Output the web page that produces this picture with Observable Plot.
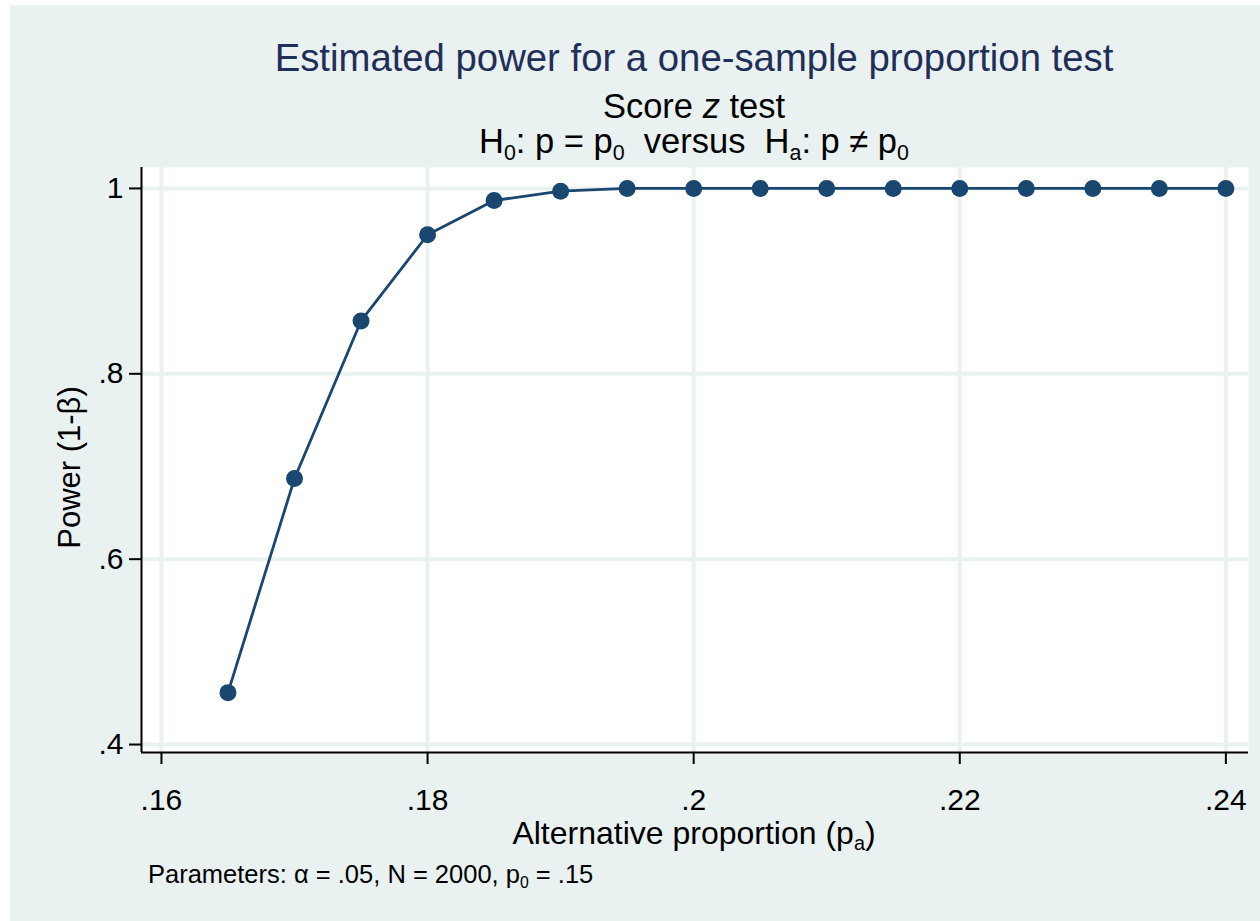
<!DOCTYPE html>
<html>
<head>
<meta charset="utf-8">
<script src="https://cdn.jsdelivr.net/npm/d3@7"></script>
<script src="https://cdn.jsdelivr.net/npm/@observablehq/plot@0.6"></script>
<style>
  html, body { margin: 0; padding: 0; background: #ffffff; }
  body { width: 1260px; height: 921px; position: relative; overflow: hidden;
         font-family: "Liberation Sans", Arial, Helvetica, sans-serif; }
  #bg { position: absolute; left: 10px; top: 5px; width: 1250px; height: 916px; background: #EAF1F1; }
  #chart { position: absolute; left: 0; top: 0; }
  .t { position: absolute; left: 0; width: 1388px; text-align: center; white-space: nowrap; color: #000; }
  .sub { font-size: 0.62em; position: relative; top: 0.32em; }
  #title { top: 39px; font-size: 38.3px; line-height: 38px; color: #1f2f57; }
  #sub1 { top: 89px; font-size: 34.5px; line-height: 34.5px; }
  #sub2 { top: 124px; font-size: 34.5px; line-height: 34.5px; }
  #xlab { top: 817px; font-size: 32px; line-height: 32px; }
  #caption { position: absolute; left: 148px; top: 861.5px; font-size: 25.5px; line-height: 25.5px; white-space: nowrap; color: #000; }
  #ylab { position: absolute; left: -131px; top: 451.5px; width: 400px; height: 31px; font-size: 31px; line-height: 31px;
          text-align: center; transform: rotate(-90deg); white-space: nowrap; color: #000; }
</style>
</head>
<body>
<div id="bg"></div>
<div id="chart"></div>
<div class="t" id="title">Estimated power for a one-sample proportion test</div>
<div class="t" id="sub1">Score <i>z</i> test</div>
<div class="t" id="sub2">H<span class="sub">0</span>: p = p<span class="sub">0</span>&nbsp; versus&nbsp; H<span class="sub">a</span>: p ≠ p<span class="sub">0</span></div>
<div class="t" id="xlab">Alternative proportion (p<span class="sub">a</span>)</div>
<div id="ylab">Power (1-β)</div>
<div id="caption">Parameters: α = .05, N = 2000, p<span class="sub">0</span> = .15</div>
<script>
// Data
const alternativeProportion = [0.165, 0.170, 0.175, 0.180, 0.185, 0.190, 0.195, 0.200,
                               0.205, 0.210, 0.215, 0.220, 0.225, 0.230, 0.235, 0.240];
const power = [0.456, 0.687, 0.857, 0.950, 0.987, 0.997, 1.000, 1.000,
               1.000, 1.000, 1.000, 1.000, 1.000, 1.000, 1.000, 1.000];
const xTicks = [0.16, 0.18, 0.20, 0.22, 0.24];
const yTicks = [0.4, 0.6, 0.8, 1.0];

const rows = alternativeProportion.map((x, i) => ({x, y: power[i]}));
const xDomain = [0.1585, 0.2417];
const yDomain = [0.3914, 1.0226];
const fmt = d => d === 1 ? "1" : String(+d.toFixed(2)).replace(/^0\./, ".");
const navy = "#1A476F";
const gridColor = "#EAF1F1";

const chart = Plot.plot({
  width: 1260,
  height: 921,
  marginLeft: 141,
  marginRight: 12,
  marginTop: 167,
  marginBottom: 169,
  style: { background: "transparent", fontFamily: "'Liberation Sans', Arial, Helvetica, sans-serif", overflow: "visible", color: "#000" },
  x: { domain: xDomain, ticks: xTicks },
  y: { domain: yDomain, ticks: yTicks },
  marks: [
    Plot.frame({ fill: "white", stroke: null }),
    Plot.gridX(xTicks, { stroke: gridColor, strokeWidth: 4, strokeOpacity: 1 }),
    Plot.gridY(yTicks, { stroke: gridColor, strokeWidth: 4, strokeOpacity: 1 }),
    Plot.axisX(xTicks, { tickSize: 12, tickPadding: 24, fontSize: 30, strokeWidth: 2, tickFormat: fmt, label: null }),
    Plot.axisY(yTicks, { anchor: "left", tickSize: 12, tickPadding: 6, fontSize: 30, strokeWidth: 2, tickFormat: fmt, label: null }),
    Plot.ruleX([xDomain[0]], { stroke: "#000", strokeWidth: 2 }),
    Plot.ruleY([yDomain[0]], { stroke: "#000", strokeWidth: 2 }),
    Plot.line(rows, { x: "x", y: "y", stroke: navy, strokeWidth: 2.8 }),
    Plot.dot(rows, { x: "x", y: "y", r: 8.5, fill: navy, stroke: null })
  ]
});
document.getElementById("chart").appendChild(chart);
</script>
</body>
</html>
